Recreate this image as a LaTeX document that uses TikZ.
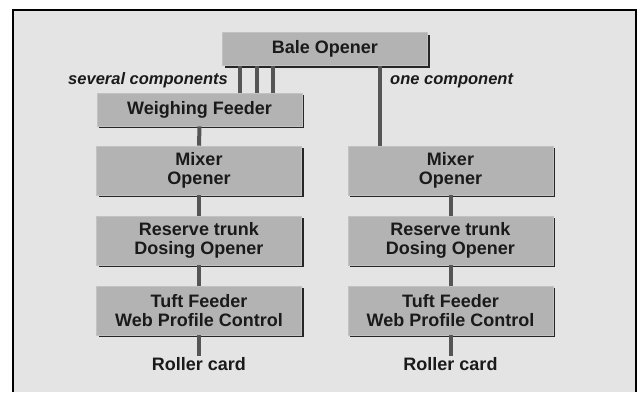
\documentclass[tikz,border=0pt]{standalone}
\usepackage{fontspec}
\setmainfont{Liberation Sans}
\usepackage{tikz}
\usetikzlibrary{positioning,shadows}
\definecolor{panelgray}{HTML}{E4E4E4}
\definecolor{boxgray}{HTML}{B3B3B3}
\definecolor{linkgray}{HTML}{555555}
\definecolor{inkgray}{HTML}{1A1A1A}
\tikzset{
  stagebox/.style={fill=boxgray, draw=boxgray!80!white, line width=0.6pt, text=inkgray, align=center,
    minimum width=205, font=\fontsize{18}{19.5}\selectfont\bfseries,
    drop shadow={shadow xshift=2pt, shadow yshift=-2pt, fill=black!85, opacity=1}},
  onebox/.style={stagebox, minimum height=33},
  twobox/.style={stagebox, minimum height=49},
  endlabel/.style={text=inkgray, font=\fontsize{18}{19.5}\selectfont\bfseries, inner sep=1pt},
  notelabel/.style={text=inkgray, font=\fontsize{16.5}{19}\selectfont\bfseries\itshape, inner sep=0pt},
  link/.style={draw=linkgray, line width=4pt}
}

\begin{document}
\begin{tikzpicture}[x=1pt, y=-1pt]
  \useasboundingbox (0,0) rectangle (638,392);
  \fill[panelgray] (13,10) rectangle (636,392);
  \draw[line width=1.5pt] (13,392) -- (13,10) -- (636,10) -- (636,392);

  \node[onebox] (bale) at (325,49) {Bale Opener};
  \node[onebox] (weigh) at (199.5,109.5) {Weighing Feeder};

  % left line: several components
  \node[twobox] (lmix) at (199,170.5) {Mixer\\Opener};
  \node[twobox] (lres) at (199,240.5) {Reserve trunk\\Dosing Opener};
  \node[twobox] (ltuft) at (199,310.5) {Tuft Feeder\\Web Profile Control};
  \node[endlabel, below=21pt of ltuft] (lcard) {Roller card};

  % right line: one component
  \node[twobox] (rmix) at (450.5,170.5) {Mixer\\Opener};
  \node[twobox] (rres) at (450.5,240.5) {Reserve trunk\\Dosing Opener};
  \node[twobox] (rtuft) at (450.5,310.5) {Tuft Feeder\\Web Profile Control};
  \node[endlabel, below=21pt of rtuft] (rcard) {Roller card};

  \node[notelabel, anchor=east] (several) at (228,80) {several components};
  \node[notelabel, anchor=west] (one) at (390,81) {one component};

  \foreach \dx in {17.5,34.5,51} {
    \draw[link] ([xshift=\dx]bale.south west) -- ([xshift=\dx]bale.south west |- weigh.north);
  }
  \draw[link] ([xshift=157.5]bale.south west) -- ([xshift=157.5]bale.south west |- rmix.north);
  \draw[link] (weigh.south) -- (lmix.north);
  \draw[link] (lmix.south) -- (lres.north);
  \draw[link] (lres.south) -- (ltuft.north);
  \draw[link] (ltuft.south) -- (lcard.north);
  \draw[link] (rmix.south) -- (rres.north);
  \draw[link] (rres.south) -- (rtuft.north);
  \draw[link] (rtuft.south) -- (rcard.north);
\end{tikzpicture}
\end{document}
